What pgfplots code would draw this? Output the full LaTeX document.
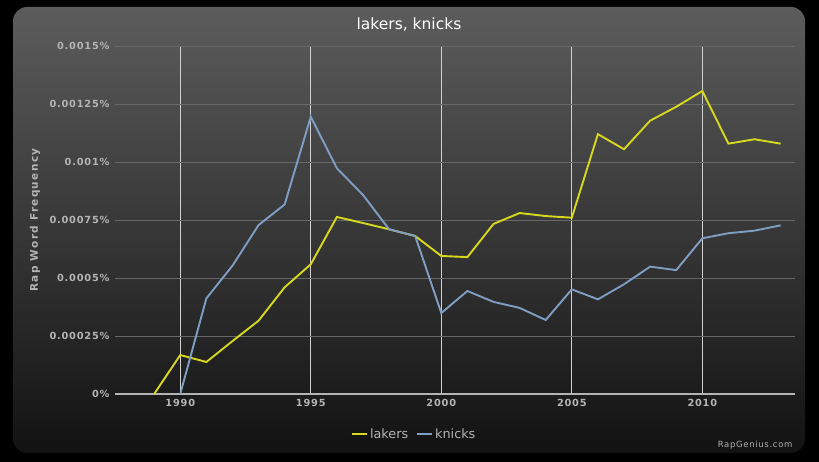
\documentclass[border=0pt]{standalone}
\usepackage{pgfplots}
\pgfplotsset{compat=1.18}
\usepackage{fontspec}
\setmainfont{DejaVu Sans}
\newfontfamily\tickfont[LetterSpace=8]{DejaVu Sans}
\newfontfamily\labfont[LetterSpace=13]{DejaVu Sans}
\newfontfamily\smallfont[LetterSpace=8]{DejaVu Sans}
\definecolor{lakersc}{HTML}{D8D81E}
\definecolor{knicksc}{HTML}{7F9EC4}
\definecolor{tickc}{HTML}{B4B4B4}
\definecolor{gridc}{HTML}{686868}
\definecolor{vgridc}{HTML}{D0D0D0}
\definecolor{paneltop}{HTML}{5C5C5C}
\definecolor{panelbot}{HTML}{121212}
\begin{document}
\begin{tikzpicture}[x=1pt,y=1pt]
\fill[black] (0,0) rectangle (819,462);
\shade[top color=paneltop, bottom color=panelbot, rounded corners=14pt] (13,9) rectangle (805,455);
\node[white, font=\fontsize{15.5}{17}\selectfont] at (409,437) {lakers, knicks};
\node[tickc, font=\smallfont\fontsize{8.5}{10}\selectfont, anchor=east] at (796,17) {RapGenius.com};
\begin{axis}[
  at={(115pt,68pt)}, anchor=south west,
  scale only axis, width=680pt, height=348pt,
  xmin=1987.5, xmax=2013.55,
  ymin=0, ymax=0.0015,
  axis x line*=bottom, axis y line*=left,
  x axis line style={draw=tickc, line width=1.6pt, -},
  y axis line style={draw=none},
  major tick length=0pt,
  xtick={1990,1995,2000,2005,2010},
  xticklabels={1990,1995,2000,2005,2010},
  ytick={0,0.00025,0.0005,0.00075,0.001,0.00125,0.0015},
  yticklabels={0\%,0.00025\%,0.0005\%,0.00075\%,0.001\%,0.00125\%,0.0015\%},
  scaled y ticks=false,
  ticklabel style={tickc, font=\tickfont\bfseries\fontsize{9.8}{11}\selectfont},
  yticklabel style={xshift=-2pt},
  xticklabel style={yshift=-2pt},
  ymajorgrids, xmajorgrids,
  y grid style={gridc, line width=0.7pt},
  x grid style={vgridc, line width=0.8pt},
  ylabel={Rap Word Frequency},
  ylabel style={at={(axis description cs:-0.1176,0.5)}, anchor=center, tickc, font=\labfont\bfseries\fontsize{10.5}{12}\selectfont},
  legend columns=2,
  legend style={at={(0.44,-0.115)}, anchor=center, draw=none, fill=none, text=tickc, font=\fontsize{12.8}{14}\selectfont, /tikz/every even column/.append style={column sep=6pt}},
  legend image code/.code={\draw[#1, line width=2pt] (0pt,0pt) -- (15pt,0pt);},
  clip=false,
]
\addplot[lakersc, line width=1.9pt, no markers] coordinates {
(1989,0) (1990,0.000168) (1991,0.000138) (1992,0.000228) (1993,0.000316)
(1994,0.00046) (1995,0.000559) (1996,0.000763) (1997,0.000737) (1998,0.00071)
(1999,0.000681) (2000,0.000595) (2001,0.00059) (2002,0.000733) (2003,0.00078)
(2004,0.000767) (2005,0.00076) (2006,0.00112) (2007,0.001055) (2008,0.001178)
(2009,0.001238) (2010,0.001306) (2011,0.001079) (2012,0.001098) (2013,0.001079)
};
\addlegendentry{lakers}
\addplot[knicksc, line width=1.9pt, no markers] coordinates {
(1990,0) (1991,0.000412) (1992,0.000553) (1993,0.000728) (1994,0.000817)
(1995,0.001195) (1996,0.000973) (1997,0.000858) (1998,0.00071) (1999,0.000681)
(2000,0.000349) (2001,0.000444) (2002,0.000397) (2003,0.000371) (2004,0.000319)
(2005,0.000451) (2006,0.000408) (2007,0.000473) (2008,0.000549) (2009,0.000534)
(2010,0.000671) (2011,0.000693) (2012,0.000704) (2013,0.000727)
};
\addlegendentry{knicks}
\end{axis}
\end{tikzpicture}
\end{document}
